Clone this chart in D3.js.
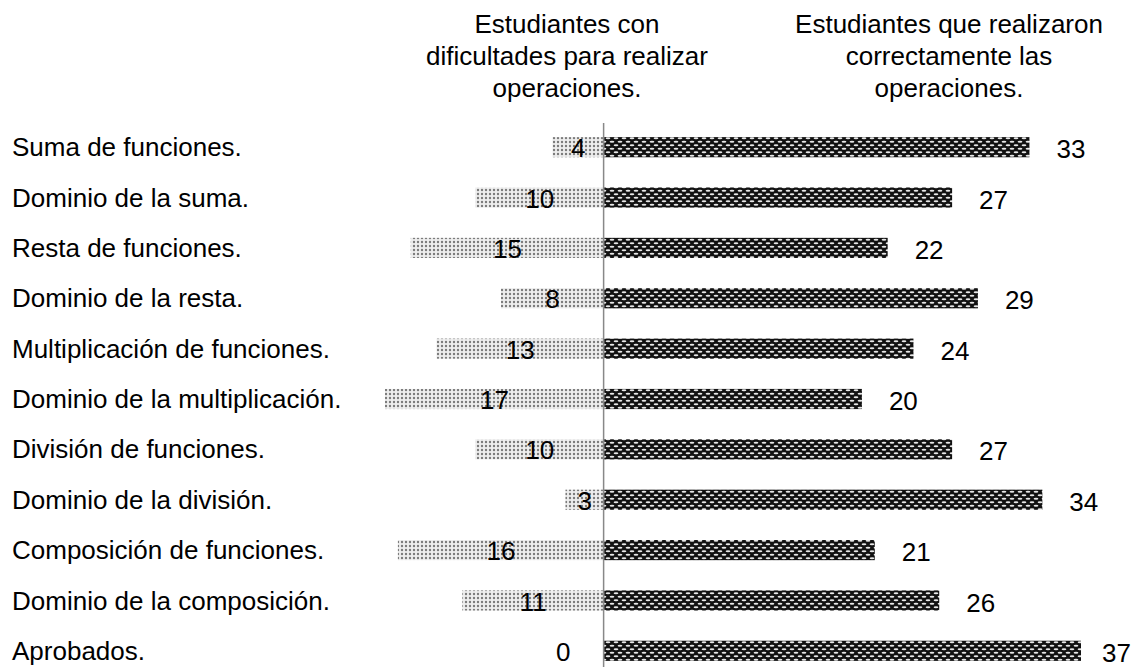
<!DOCTYPE html>
<html>
<head>
<meta charset="utf-8">
<script src="https://cdn.jsdelivr.net/npm/d3@7"></script>
<style>
  body { margin: 0; background: #fff; }
  text { font-family: "Liberation Sans", Arial, sans-serif; fill: #000; }
</style>
</head>
<body>
<div id="grafico"></div>
<script>
// Datos del grafico
var categorias = [
  "Suma de funciones.",
  "Dominio de la suma.",
  "Resta de funciones.",
  "Dominio de la resta.",
  "Multiplicación de funciones.",
  "Dominio de la multiplicación.",
  "División de funciones.",
  "Dominio de la división.",
  "Composición de funciones.",
  "Dominio de la composición.",
  "Aprobados."
];
var dificultades = [4, 10, 15, 8, 13, 17, 10, 3, 16, 11, 0];
var correctos = [33, 27, 22, 29, 24, 20, 27, 34, 21, 26, 37];
var tituloIzq = ["Estudiantes con", "dificultades para realizar", "operaciones."];
var tituloDer = ["Estudiantes que realizaron", "correctamente las", "operaciones."];

var width = 1135, height = 667;
var fuente = "26px";

var svg = d3.select("#grafico")
  .append("svg")
  .attr("width", width)
  .attr("height", height);

// Patrones de relleno
var defs = svg.append("defs");
var pLight = defs.append("pattern")
  .attr("id", "puntos")
  .attr("patternUnits", "userSpaceOnUse")
  .attr("width", 4).attr("height", 4);
pLight.append("rect").attr("width", 4).attr("height", 4).attr("fill", "#eeeeee");
pLight.append("circle").attr("cx", 2).attr("cy", 2).attr("r", 1.2).attr("fill", "#7a7a7a");

var pDark = defs.append("pattern")
  .attr("id", "ladrillo")
  .attr("patternUnits", "userSpaceOnUse")
  .attr("width", 8).attr("height", 7);
pDark.append("rect").attr("width", 8).attr("height", 7).attr("fill", "#111");
pDark.append("ellipse").attr("cx", 4).attr("cy", 1.75).attr("rx", 2.4).attr("ry", 1).attr("fill", "#e8e8e8");
pDark.append("ellipse").attr("cx", 0).attr("cy", 5.25).attr("rx", 2.4).attr("ry", 1).attr("fill", "#e8e8e8");
pDark.append("ellipse").attr("cx", 8).attr("cy", 5.25).attr("rx", 2.4).attr("ry", 1).attr("fill", "#e8e8e8");

// Escalas
var x = d3.scaleLinear().domain([-17, 37]).range([385, 1081]);
var y = d3.scaleBand()
  .domain(categorias)
  .range([122, 676])
  .paddingInner(0.6)
  .paddingOuter(0.3);

// Barras izquierda
svg.selectAll(".bar-izq")
  .data(dificultades)
  .enter()
  .append("rect")
  .attr("class", "bar-izq")
  .attr("x", function (d) { return x(-d); })
  .attr("y", function (d, i) { return y(categorias[i]); })
  .attr("width", function (d) { return x(0) - x(-d); })
  .attr("height", y.bandwidth())
  .attr("fill", "url(#puntos)");

// Barras derecha
svg.selectAll(".bar-der")
  .data(correctos)
  .enter()
  .append("rect")
  .attr("class", "bar-der")
  .attr("x", x(0))
  .attr("y", function (d, i) { return y(categorias[i]); })
  .attr("width", function (d) { return x(d) - x(0); })
  .attr("height", y.bandwidth())
  .attr("fill", "url(#ladrillo)");

// Eje vertical
svg.append("line")
  .attr("x1", x(0) - 0.5).attr("x2", x(0) - 0.5)
  .attr("y1", 123).attr("y2", height)
  .attr("stroke", "#888")
  .attr("stroke-width", 1.5);

// Etiquetas de categorias
svg.selectAll(".cat")
  .data(categorias)
  .enter()
  .append("text")
  .attr("class", "cat")
  .attr("x", 12)
  .attr("y", function (d) { return y(d) + y.bandwidth() / 2; })
  .attr("dy", "0.35em")
  .style("font-size", fuente)
  .text(function (d) { return d; });

// Valores izquierda (centrados en la barra)
svg.selectAll(".val-izq")
  .data(dificultades)
  .enter()
  .append("text")
  .attr("class", "val-izq")
  .attr("x", function (d) {
    return d === 0 ? x(0) - 41 : (x(-d) + x(0)) / 2;
  })
  .attr("y", function (d, i) { return y(categorias[i]) + y.bandwidth() / 2 + 1; })
  .attr("dy", "0.35em")
  .attr("text-anchor", "middle")
  .style("font-size", fuente)
  .text(function (d) { return d; });

// Valores derecha
svg.selectAll(".val-der")
  .data(correctos)
  .enter()
  .append("text")
  .attr("class", "val-der")
  .attr("x", function (d) { return Math.min(x(d) + 27, 1102); })
  .attr("y", function (d, i) { return y(categorias[i]) + y.bandwidth() / 2 + 2; })
  .attr("dy", "0.35em")
  .style("font-size", fuente)
  .text(function (d) { return d; });

// Titulos
function titulo(lineas, cx) {
  svg.append("g").selectAll("text")
    .data(lineas)
    .enter()
    .append("text")
    .attr("x", cx)
    .attr("y", function (d, i) { return 33 + i * 32; })
    .attr("text-anchor", "middle")
    .style("font-size", fuente)
    .text(function (d) { return d; });
}
titulo(tituloIzq, 567);
titulo(tituloDer, 949);
</script>
</body>
</html>
